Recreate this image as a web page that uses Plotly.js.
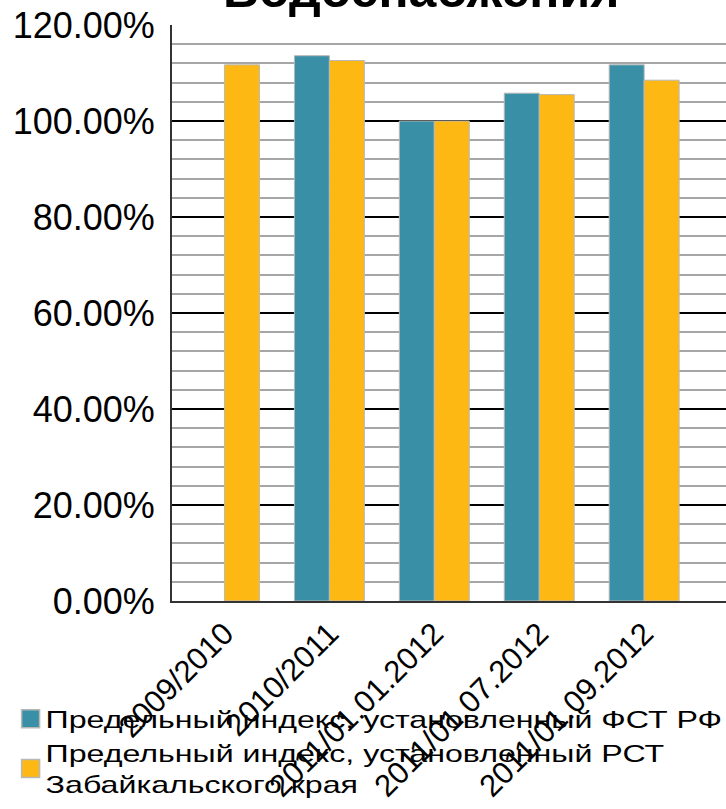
<!DOCTYPE html>
<html>
<head>
<meta charset="utf-8">
<script src="https://cdn.plot.ly/plotly-3.0.1.min.js"></script>
<style>
  html, body { margin: 0; padding: 0; background: #ffffff; }
  #chart { width: 726px; height: 809px; }
  #chart .legend .scrollbox { clip-path: none !important; }
  #chart .legendtext {
    transform-box: fill-box; transform-origin: 0% 50%;
    transform: translateX(-5px) scaleX(1.34);
  }
</style>
</head>
<body>
<div id="chart"></div>
<script>
// ---- data ----
const categories = ["2009/2010", "2010/2011", "2011/01.01.2012", "2011/01.07.2012", "2011/01.09.2012"];
const seriesNames = [
  "Предельный индекс, установленный ФСТ РФ",
  "Предельный индекс, установленный РСТ<br>Забайкальского края"
];
const fstValues = [null, 113.6, 100.0, 105.8, 111.7];
const rstValues = [111.7, 112.6, 100.0, 105.5, 108.5];
const yTickValues = [0, 20, 40, 60, 80, 100, 120];
const yTickLabels = ["0.00%", "20.00%", "40.00%", "60.00%", "80.00%", "100.00%", "120.00%"];
const titleText = "Водоснабжения";

const teal = "#3990a6";
const orange = "#fdb813";
const font = "Liberation Sans, Arial, sans-serif";

const traces = [
  {
    type: "bar", name: seriesNames[0], x: categories, y: fstValues,
    marker: { color: teal, line: { color: "#b8b8b8", width: 1 } },
    hoverinfo: "skip"
  },
  {
    type: "bar", name: seriesNames[1], x: categories, y: rstValues,
    marker: { color: orange, line: { color: "#b8b8b8", width: 1 } },
    hoverinfo: "skip"
  }
];

const layout = {
  width: 726, height: 809,
  paper_bgcolor: "#ffffff", plot_bgcolor: "#ffffff",
  margin: { l: 172, r: 0, t: 25, b: 208, pad: 0, autoexpand: false },
  font: { family: font, color: "#000000" },
  annotations: [{
    text: "<b>" + titleText + "</b>",
    font: { family: font, size: 50, color: "#000000" },
    xref: "paper", yref: "paper", x: 0.4495, xanchor: "center",
    y: 1, yanchor: "bottom", yshift: 5, showarrow: false
  }],
  barmode: "group", bargap: 1/3, bargroupgap: 0,
  showlegend: true,
  legend: {
    xref: "container", yref: "container",
    x: 0.0146, xanchor: "left", y: 0.139, yanchor: "top",
    orientation: "v", bgcolor: "rgba(0,0,0,0)",
    font: { family: font, size: 24, color: "#000000" },
    itemwidth: 30, tracegroupgap: 0
  },
  xaxis: {
    type: "category", range: [-0.5, 4.78],
    showline: true, linecolor: "#333333", linewidth: 2,
    showgrid: false, ticks: "", tickangle: -45,
    tickfont: { family: font, size: 31, color: "#000000" },
    automargin: false, fixedrange: true
  },
  yaxis: {
    range: [0, 120], tickvals: yTickValues, ticktext: yTickLabels,
    showline: true, linecolor: "#333333", linewidth: 2,
    showgrid: true, gridcolor: "#000000", gridwidth: 1.5,
    minor: { dtick: 4, showgrid: true, gridcolor: "#a6a6a6", gridwidth: 2, ticks: "" },
    zeroline: false, ticks: "", ticklabelstandoff: 8,
    tickfont: { family: font, size: 36, color: "#000000" },
    automargin: false, fixedrange: true
  }
};

Plotly.newPlot("chart", traces, layout, { displayModeBar: false, staticPlot: true }).then(function (gd) {
  gd.querySelectorAll(".legend .scrollbox").forEach(function (el) { el.removeAttribute("clip-path"); });
  gd.querySelectorAll(".legendpoints path").forEach(function (el) {
    const t = el.getAttribute("transform") || "";
    el.setAttribute("transform", t + " scale(1.5)");
  });
});
</script>
</body>
</html>
